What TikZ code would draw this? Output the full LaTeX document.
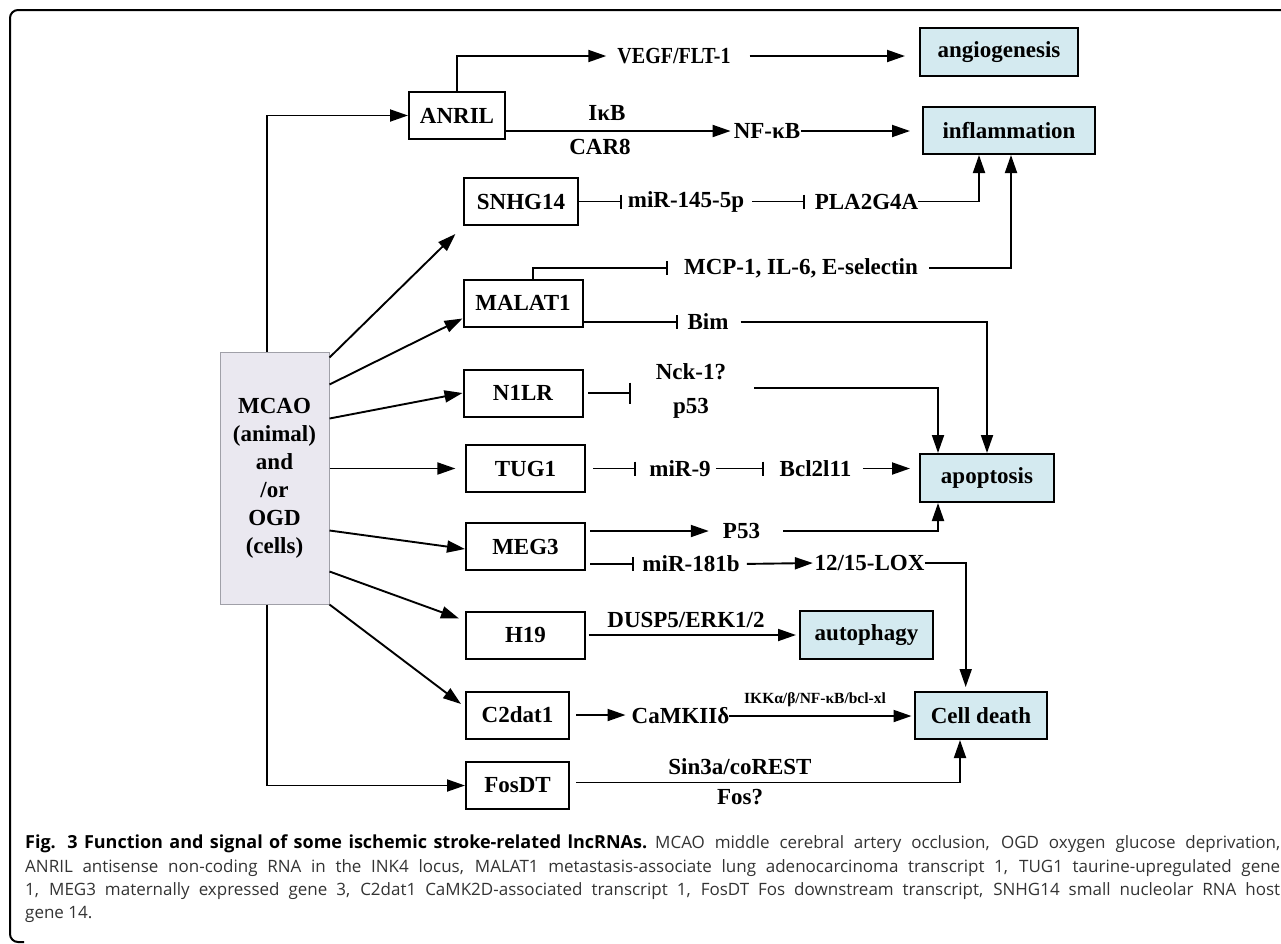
\documentclass[tikz,border=0pt]{standalone}
\usepackage{fontspec}
\usepackage{graphicx}
\setmainfont{Liberation Serif}
\newfontfamily\capfont{Open Sans}
\usetikzlibrary{arrows.meta,calc}
\definecolor{boxblue}{HTML}{D4EAF0}
\definecolor{mcaofill}{HTML}{EAE8F0}
\definecolor{mcaoline}{HTML}{A0A0A8}
\definecolor{captext}{HTML}{333333}
\newcommand\labfont{\bfseries\fontsize{23}{28}\selectfont}
\tikzset{
  gene/.style={draw, line width=2pt, fill=white, minimum width=119pt, minimum height=47pt, inner sep=0pt, font=\labfont},
  outc/.style={gene, fill=boxblue},
  mcaobox/.style={draw=mcaoline, line width=1pt, fill=mcaofill, minimum width=109pt, minimum height=252pt, inner sep=0pt},
  lab/.style={inner sep=0pt, font=\labfont},
  conn/.style={line width=1.9pt},
  act/.style={conn, -{Triangle[length=18pt,width=12pt]}},
  inh/.style={conn, -{Bar[width=14pt]}},
}
\begin{document}
\begin{tikzpicture}[x=1pt,y=-1pt]
\useasboundingbox (0,0) rectangle (1281,943);
% frame
\draw[line width=2pt, rounded corners=8pt] (1283,10) -- (10,10) -- (10,942) -- (24,942);

% boxes
\node[outc, minimum width=158pt, minimum height=48pt] (angio) at (999,52) {angiogenesis};
\node[outc, minimum width=172pt] (inflam) at (1009,130.5) {inflammation};
\node[gene, minimum width=96pt] (anril) at (457,115.5) {ANRIL};
\node[gene, minimum width=114pt] (snhg) at (521,201.5) {SNHG14};
\node[gene] (malat) at (523,303) {MALAT1};
\node[gene] (n1lr) at (523,393) {N1LR};
\node[gene] (tug) at (525.5,468.5) {TUG1};
\node[gene] (meg) at (525.5,546.5) {MEG3};
\node[gene] (h19) at (525.5,635) {H19};
\node[gene, minimum width=103pt] (c2) at (517.5,715) {C2dat1};
\node[gene, minimum width=103pt] (fos) at (517.5,785.5) {FosDT};
\node[outc, minimum width=134pt, minimum height=48pt] (apop) at (987,478) {apoptosis};
\node[outc, minimum width=133pt, minimum height=48pt] (auto) at (866.5,635) {autophagy};
\node[outc, minimum width=132pt] (death) at (981,715.5) {Cell death};
\node[mcaobox] (mcao) at (274.5,478) {};
\node[lab, align=center] (mcaotext) at (274.5,478) {MCAO\\(animal)\\and\\/or\\OGD\\(cells)};

% labels
\node[lab] (vegf) at (674,56) {\scalebox{0.87}[1]{VEGF/FLT-1}};
\node[lab] (ikb) at (607,113) {IκB};
\node[lab] (car8) at (600,147) {CAR8};
\node[lab] (nfkb) at (767,131) {NF-κB};
\node[lab] (mir145) at (686,201.5) {miR-145-5p};
\node[lab] (pla) at (866.5,201.5) {PLA2G4A};
\node[lab] (mcp) at (801,268) {MCP-1, IL-6, E-selectin};
\node[lab] (bim) at (708,322) {Bim};
\node[lab, align=center, font=\bfseries\fontsize{23}{34}\selectfont] (nck) at (691,391) {Nck-1?\\p53};
\node[lab] (mir9) at (680,468.5) {miR-9};
\node[lab] (bcl) at (815.5,468.5) {Bcl2l11};
\node[lab] (p53b) at (741.5,531) {P53};
\node[lab] (mir181) at (691,564) {miR-181b};
\node[lab] (lox) at (869.5,563) {12/15-LOX};
\node[lab] (dusp) at (686,620) {DUSP5/ERK1/2};
\node[lab] (camk) at (680.5,716) {CaMKIIδ};
\node[lab, font=\bfseries\fontsize{15.5}{18}\selectfont] (ikk) at (815,700) {IKKα/β/NF-κB/bcl-xl};
\node[lab] (sin) at (740,767) {Sin3a/coREST};
\node[lab] (fosq) at (740,797) {Fos?};

% connectors
\draw[act] ([xshift=-7.5pt]mcao.north) |- (anril.west);
\draw[act, shorten >=11pt] (anril.north) |- (vegf.west);
\draw[act, shorten <=19pt, shorten >=14pt] (vegf.east) -- (vegf.east -| angio.west);
\draw[act, shorten >=3pt] (anril.east |- nfkb.west) -- (nfkb.west);
\draw[act, shorten <=1pt, shorten >=12pt] (nfkb.east) -- (nfkb.east -| inflam.west);
\draw[inh, shorten >=6pt] (snhg.east) -- (snhg.east -| mir145.west);
\draw[inh, shorten <=8pt, shorten >=10pt] (mir145.east) -- (pla.west);
\draw[act] (pla.east) -| ([xshift=-30pt]inflam.south);
\draw[inh, shorten >=16pt] ([xshift=10pt]malat.north) |- (mcp.west);
\draw[act, shorten <=11pt] (mcp.east) -| ([xshift=2pt]inflam.south);
\draw[inh, shorten >=9pt] (malat.east |- bim.west) -- (bim.west);
\draw[act, shorten <=12pt] (bim.east) -| (apop.north);
\draw[conn, -{Bar[width=21pt]}, shorten <=4.5pt, shorten >=24.5pt] (n1lr.east) -- (n1lr.east -| nck.west);
\draw[act, shorten <=28pt] ([yshift=3pt]nck.east) -| ([xshift=-49pt]apop.north);
\draw[act, shorten >=9.6pt] (mcao.east |- tug.west) -- (tug.west);
\draw[inh, shorten <=7pt, shorten >=13pt] (tug.east) -- (tug.east -| mir9.west);
\draw[inh, shorten <=5pt, shorten >=16pt] (mir9.east) -- (bcl.west);
\draw[act, shorten <=11.5pt, shorten >=9pt] (bcl.east) -- (bcl.east -| apop.west);
\draw[act, shorten <=4pt, shorten >=14pt] (meg.east |- p53b.west) -- (p53b.west);
\draw[act, shorten <=23pt] (p53b.east) -| ([xshift=-49pt]apop.south);
\draw[inh, shorten <=4pt, shorten >=8pt] (meg.east |- mir181.west) -- (mir181.west);
\draw[act, shorten <=7pt, shorten >=1.5pt] (mir181.east) -- (lox.west);
\draw[act, shorten >=4pt] (lox.east) -| ([xshift=-15.3pt]death.north);
\draw[act] ([yshift=-6pt]mcao.north east) -- ([xshift=-7.6pt,yshift=-8pt]snhg.south west);
\draw[act] ([yshift=-33pt]mcao.north east) -- ([yshift=9pt]malat.south west);
\draw[act] ([yshift=-67pt]mcao.north east) -- (n1lr.west);
\draw[act] ([yshift=74pt]mcao.south east) -- ([yshift=-2.5pt]meg.west);
\draw[act] ([yshift=33pt]mcao.south east) -- ([xshift=-6pt,yshift=-8pt]h19.north west);
\draw[act] (mcao.south east) -- ([xshift=-4pt,yshift=11pt]c2.west);
\draw[act] ([xshift=-7.5pt]mcao.south) |- (fos.west);
\draw[act, shorten <=2.5pt, shorten >=3pt] (h19.east) -- (auto.west);
\draw[act, shorten <=6pt, shorten >=6pt] (c2.east) -- (c2.east -| camk.west);
\draw[act, shorten >=2.5pt] (camk.east) -- (camk.east -| death.west);
\draw[act, shorten <=6pt] ([yshift=3pt]fos.east) -| ([xshift=-21pt]death.south);

% caption
\node[anchor=west, inner sep=0pt, text=captext, align=left, font=\capfont\fontsize{17}{23.3}\selectfont] (cap) at (25,879) {%
\makebox[1255pt][s]{\makebox[622pt][s]{\color{black}\bfseries\fontsize{18}{23.3}\selectfont Fig. 3 Function and signal of some ischemic stroke-related lncRNAs.}\hspace{8pt}\makebox[625pt][s]{MCAO middle cerebral artery occlusion, OGD oxygen glucose deprivation,}}\\
\makebox[1255pt][s]{ANRIL antisense non-coding RNA in the INK4 locus, MALAT1 metastasis-associate lung adenocarcinoma transcript 1, TUG1 taurine-upregulated gene}\\
\makebox[1255pt][s]{1, MEG3 maternally expressed gene 3, C2dat1 CaMK2D-associated transcript 1, FosDT Fos downstream transcript, SNHG14 small nucleolar RNA host}\\
gene 14.};
\end{tikzpicture}
\end{document}
